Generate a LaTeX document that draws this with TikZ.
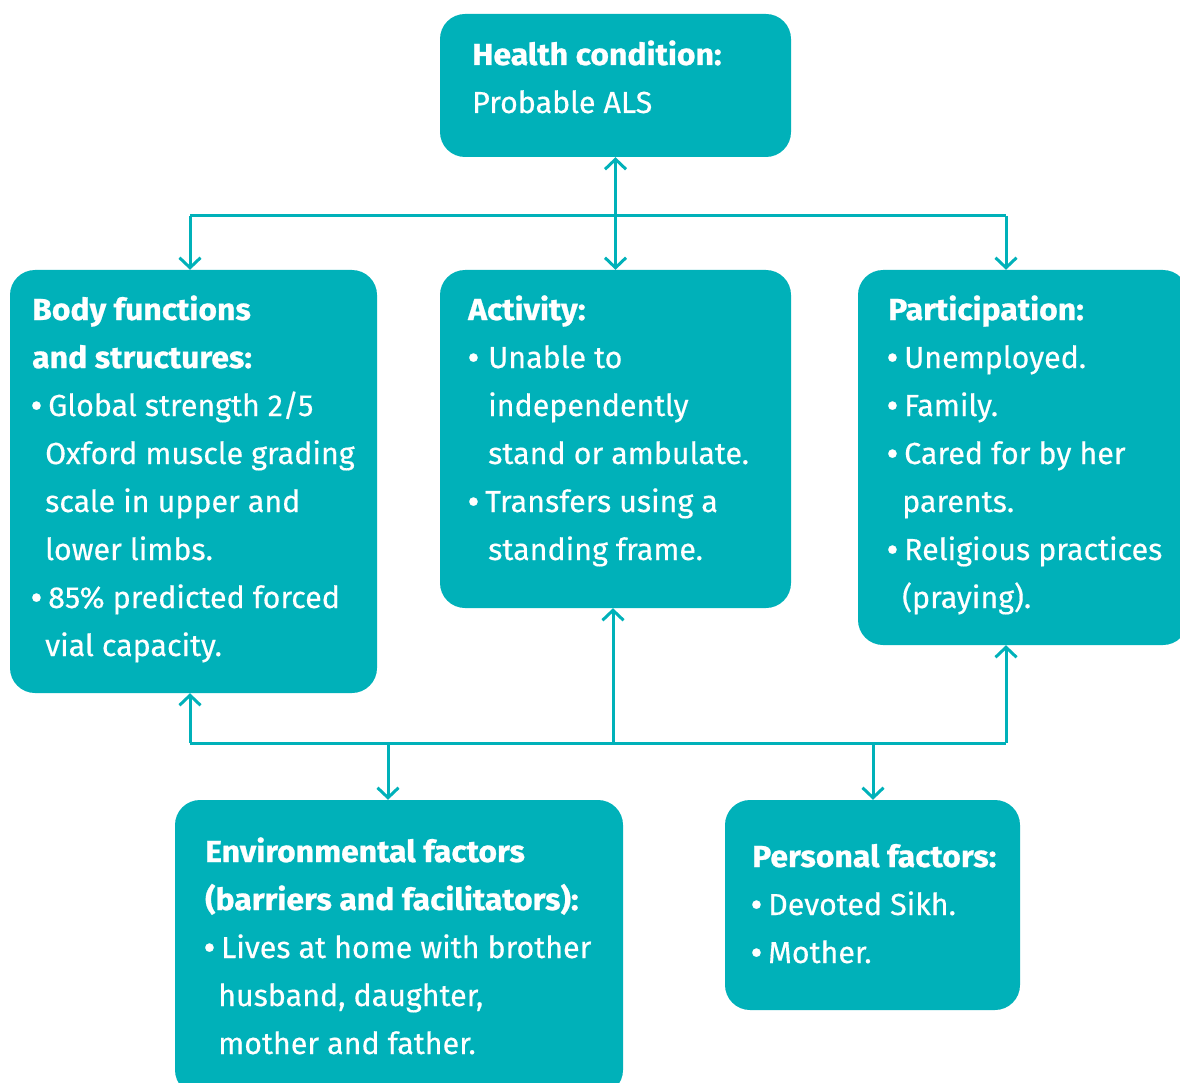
\documentclass[tikz,border=0pt]{standalone}
\usepackage{fontspec}
\setmainfont{Fira Sans}[FakeBold=0.4]
\newfontfamily\hdfont{Fira Sans}[FakeStretch=1.05, BoldFeatures={FakeBold=0.8}]
\usetikzlibrary{arrows.meta}
\definecolor{teal1}{RGB}{0,177,185}
\newcommand{\bl}[1]{\makebox[17pt][l]{\textbf{\textbullet}}#1}
\begin{document}
\begin{tikzpicture}[x=1pt,y=-1pt,
  box/.style={fill=teal1, rounded corners=25pt, inner sep=0pt},
  txt/.style={anchor=base west, inner sep=0pt, text=white, font=\fontsize{30.4pt}{48pt}\selectfont},
  hd/.style={txt, font=\hdfont\fontsize{30.4pt}{48pt}\selectfont\bfseries},
  conn/.style={draw=teal1, line width=3pt},
  arr/.style={conn, -{Straight Barb[length=10pt,width=21pt]}},
  darr/.style={conn, {Straight Barb[length=10pt,width=21pt]}-{Straight Barb[length=10pt,width=21pt]}}]
\useasboundingbox (0,0) rectangle (1180,1083);
\clip (0,0) rectangle (1180,1083);
% boxes
\node[box, minimum width=351pt, minimum height=143pt] (health) at (615.5,85.5) {};
\node[box, minimum width=367pt, minimum height=423pt] (body) at (193.5,481.5) {};
\node[box, minimum width=351pt, minimum height=338pt] (activity) at (615.5,439) {};
\node[box, minimum width=330pt, minimum height=375pt] (part) at (1023,457.5) {};
\node[box, minimum width=448pt, minimum height=295pt] (env) at (399,947.5) {};
\node[box, minimum width=295pt, minimum height=210pt] (pers) at (872.5,905) {};
% health text
\node[hd] (h1) at (472,65) {Health condition:};
\node[txt] (h2) at (472,113) {Probable ALS};
% body
\node[hd] (b1) at (32,320) {Body functions};
\node[hd] (b2) at (32,368) {and structures:};
\node[txt] (b3) at (31,416) {\bl{Global strength 2/5}};
\node[txt] (b4) at (45,464) {Oxford muscle grading};
\node[txt] (b5) at (45,512) {scale in upper and};
\node[txt] (b6) at (45,560) {lower limbs.};
\node[txt] (b7) at (31,608) {\bl{85\% predicted forced}};
\node[txt] (b8) at (45,656) {vial capacity.};
% activity
\node[hd] (a1) at (468,320) {Activity:};
\node[txt] (a2) at (468,368) {\makebox[20pt][l]{\textbf{\textbullet}}Unable to};
\node[txt] (a3) at (488,416) {independently};
\node[txt] (a4) at (488,464) {stand or ambulate.};
\node[txt] (a5) at (468,512) {\bl{Transfers using a}};
\node[txt] (a6) at (488,560) {standing frame.};
% participation
\node[hd] (p1) at (888,320) {Participation:};
\node[txt] (p2) at (887,368) {\bl{Unemployed.}};
\node[txt] (p3) at (887,416) {\bl{Family.}};
\node[txt] (p4) at (887,464) {\bl{Cared for by her}};
\node[txt] (p5) at (902,512) {parents.};
\node[txt] (p6) at (887,560) {\bl{Religious practices}};
\node[txt] (p7) at (902,608) {(praying).};
% environmental
\node[hd] (e1) at (205,862) {Environmental factors};
\node[hd] (e2) at (205,910) {(barriers and facilitators):};
\node[txt] (e3) at (204,958) {\bl{Lives at home with brother}};
\node[txt] (e4) at (218,1006) {husband, daughter,};
\node[txt] (e5) at (218,1054) {mother and father.};
% personal
\node[hd] (q1) at (752,867) {Personal factors:};
\node[txt] (q2) at (751,915) {\bl{Devoted Sikh.}};
\node[txt] (q3) at (751,963) {\bl{Mother.}};
% connectors
\draw[darr] (health) -- (activity);
\coordinate (tl) at (190,216);
\coordinate (tr) at (1006,216);
\draw[conn] (tl) -- (tr);
\draw[arr] (tl) -- (tl |- body.north);
\draw[arr] (tr) -- (tr |- part.north);
\coordinate (bl) at (190,743);
\coordinate (br) at (1006,743);
\coordinate (bm) at (613,743);
\coordinate (be) at (388,743);
\coordinate (bp) at (873,743);
\draw[conn] (bl) -- (br);
\draw[arr] (bl) -- (bl |- body.south);
\draw[arr] (br) -- (br |- part.south);
\draw[arr] (bm) -- (bm |- activity.south);
\draw[arr] (be) -- (be |- env.north);
\draw[arr] (bp) -- (bp |- pers.north);
\end{tikzpicture}
\end{document}
